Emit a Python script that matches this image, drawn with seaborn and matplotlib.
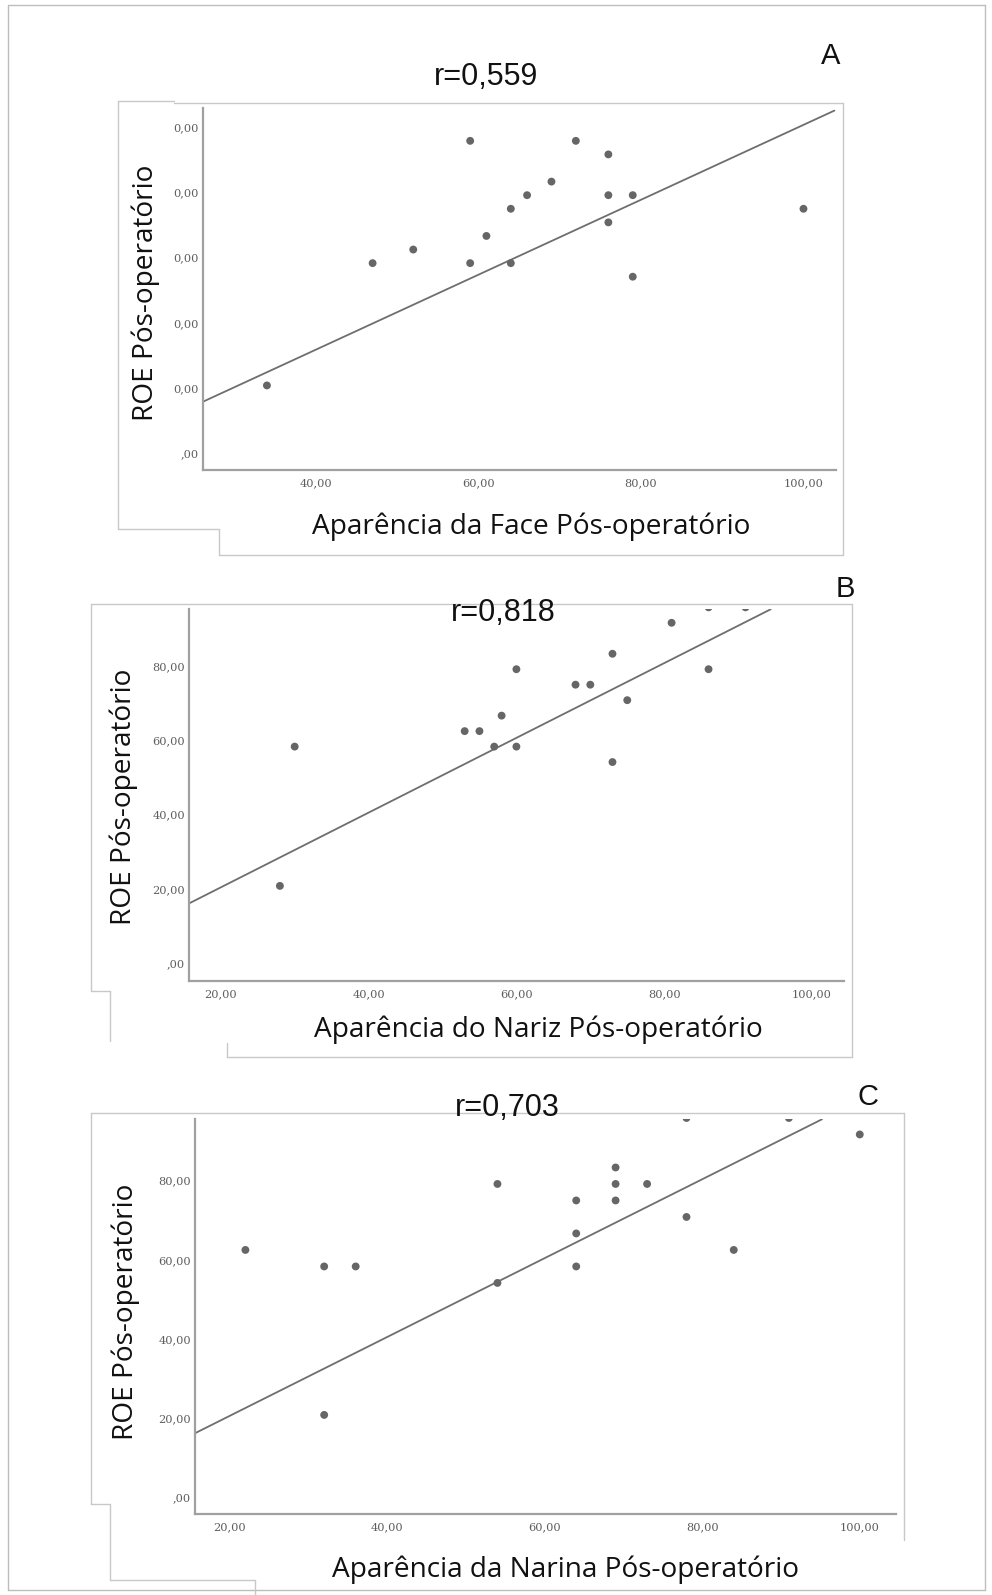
import matplotlib
matplotlib.use("Agg")
import matplotlib.pyplot as plt
import seaborn as sns
import pandas as pd
from matplotlib.lines import Line2D

# ---------------- data ----------------
a_face = [34, 47, 52, 59, 59, 61, 64, 64, 66, 69, 72, 76, 76, 76, 79, 79, 100]
a_roe = [20.83, 58.33, 62.5, 95.83, 58.33, 66.67, 75, 58.33, 79.17, 83.33,
         95.83, 91.67, 79.17, 70.83, 79.17, 54.17, 75]
a_fit_x = [26.1, 103.8]
a_fit_y = [15.8, 105.1]

b_nose = [28, 30, 53, 55, 57, 58, 60, 60, 68, 70, 73, 73, 75, 81, 86, 86, 91]
b_roe = [20.83, 58.33, 62.5, 62.5, 58.33, 66.67, 58.33, 79.17, 75, 75,
         83.33, 54.17, 70.83, 91.67, 79.17, 95.83, 95.83]
b_fit_x = [15.7, 94.4]
b_fit_y = [16.1, 95.3]

c_nostril = [22, 32, 36, 32, 54, 54, 64, 64, 64, 69, 69, 69, 73, 78, 84, 100, 78, 91]
c_roe = [62.5, 58.33, 58.33, 20.83, 79.17, 54.17, 75, 66.67, 58.33, 83.33,
         79.17, 75, 79.17, 70.83, 62.5, 91.67, 95.83, 95.83]
c_fit_x = [15.6, 95.2]
c_fit_y = [16.2, 95.5]

a_xticks = [40, 60, 80, 100]
a_xlabels = ["40,00", "60,00", "80,00", "100,00"]
a_yticks = [0, 20, 40, 60, 80, 100]
a_ylabels = [",00", "0,00", "0,00", "0,00", "0,00", "0,00"]

bc_xticks = [20, 40, 60, 80, 100]
bc_xlabels = ["20,00", "40,00", "60,00", "80,00", "100,00"]
bc_yticks = [0, 20, 40, 60, 80]
bc_ylabels = [",00", "20,00", "40,00", "60,00", "80,00"]

y_title = "ROE Pós-operatório"
x_titles = ["Aparência da Face Pós-operatório",
            "Aparência do Nariz Pós-operatório",
            "Aparência da Narina Pós-operatório"]
r_texts = ["r=0,559", "r=0,818", "r=0,703"]
letters = ["A", "B", "C"]

# ---------------- figure ----------------
W, H = 992, 1595
sns.set_theme(style="white")
plt.rcParams['font.family'] = ['Liberation Sans', 'DejaVu Sans']

fig = plt.figure(figsize=(W / 100, H / 100), dpi=100)
fig.patch.set_facecolor("white")

DOT = "#666666"
LINE = "#6e6e6e"
SPINE = "#a0a0a0"
TICK = "#5e5e5e"
BOX = "#c8c8c8"


def px_axes(l, t, r, b):
    return fig.add_axes([l / W, 1 - b / H, (r - l) / W, (b - t) / H])


def seg(x0, y0, x1, y1, c=BOX, lw=1.0):
    fig.add_artist(Line2D([x0 / W, x1 / W], [1 - y0 / H, 1 - y1 / H],
                          color=c, lw=lw, transform=fig.transFigure))


def ftext(x, y, s, **kw):
    fig.text(x / W, 1 - y / H, s, **kw)


def panel(rect, xs, ys, fx, fy, xlim, ylim, xt, xl, yt, yl):
    ax = px_axes(*rect)
    ax.patch.set_alpha(0)
    df = pd.DataFrame({"x": xs, "y": ys})
    sns.lineplot(x=fx, y=fy, ax=ax, color=LINE, lw=1.3, zorder=2)
    sns.scatterplot(data=df, x="x", y="y", ax=ax, s=32, color=DOT,
                    edgecolor="none", linewidth=0, zorder=3)
    ax.set_xlim(*xlim)
    ax.set_ylim(*ylim)
    ax.set_xticks(xt)
    ax.set_xticklabels(xl, family="DejaVu Serif", fontsize=8.2, color=TICK)
    ax.set_yticks(yt)
    ax.set_yticklabels(yl, family="DejaVu Serif", fontsize=8.2, color=TICK)
    ax.tick_params(axis="both", length=0)
    ax.tick_params(axis="x", pad=6)
    ax.tick_params(axis="y", pad=3)
    ax.set_xlabel("")
    ax.set_ylabel("")
    ax.grid(False)
    for s in ["top", "right"]:
        ax.spines[s].set_visible(False)
    for s in ["left", "bottom"]:
        ax.spines[s].set_color(SPINE)
        ax.spines[s].set_linewidth(1.6)
    return ax


panel((202.7, 108, 836, 470), a_face, a_roe, a_fit_x, a_fit_y,
      (26.1, 104.0), (-5.1, 105.9), a_xticks, a_xlabels, a_yticks, a_ylabels)
panel((189, 609.3, 843.8, 980.7), b_nose, b_roe, b_fit_x, b_fit_y,
      (15.7, 104.3), (-4.7, 95.3), bc_xticks, bc_xlabels, bc_yticks, bc_ylabels)
panel((195, 1119.3, 896, 1514), c_nostril, c_roe, c_fit_x, c_fit_y,
      (15.6, 104.6), (-4.2, 95.5), bc_xticks, bc_xlabels, bc_yticks, bc_ylabels)

# axis titles
lab_font = dict(family=["Open Sans", "DejaVu Sans"], fontsize=20.2, color="#111111")
ftext(145.4, 293, y_title, rotation=90, ha="center", va="center", **lab_font)
ftext(124, 796.5, y_title, rotation=90, ha="center", va="center", **lab_font)
ftext(125.5, 1311.5, y_title, rotation=90, ha="center", va="center", **lab_font)
ftext(531.6, 527, x_titles[0], ha="center", va="center", **lab_font)
ftext(538.6, 1029.6, x_titles[1], ha="center", va="center", **lab_font)
ftext(565.7, 1570, x_titles[2], ha="center", va="center", **lab_font)

# r values and panel letters
r_font = dict(family=["Liberation Sans", "DejaVu Sans"], fontsize=22, color="#111111")
ftext(486, 77, r_texts[0], ha="center", va="center", **r_font)
ftext(502.8, 613, r_texts[1], ha="center", va="center", **r_font)
ftext(506.9, 1108, r_texts[2], ha="center", va="center", **r_font)
let_font = dict(family=["Liberation Sans", "DejaVu Sans"], fontsize=21, color="#111111")
ftext(831, 56, letters[0], ha="center", va="center", **let_font)
ftext(845, 589.3, letters[1], ha="center", va="center", **let_font)
ftext(867.7, 1096.7, letters[2], ha="center", va="center", **let_font)

# outer frame
seg(8, 5, 985, 5, c="#bdbdbd")
seg(8, 5, 8, 1590, c="#bdbdbd")
seg(985, 5, 985, 1590, c="#bdbdbd")
seg(8, 1590, 985, 1590, c="#bdbdbd")

# pasted-panel boundaries (A)
seg(118, 100.7, 174, 100.7)
seg(174, 103.3, 842.7, 103.3)
seg(118, 100.7, 118, 529)
seg(118, 529, 219, 529)
seg(219, 529, 219, 555)
seg(219, 555, 842.7, 555)
seg(842.7, 103.3, 842.7, 555)
# (B)
seg(90.7, 604, 851.7, 604)
seg(90.7, 604, 90.7, 991)
seg(90.7, 991, 110, 991)
seg(110, 991, 110, 1040.7)
seg(227.3, 1043, 227.3, 1056.7)
seg(227.3, 1056.7, 851.7, 1056.7)
seg(851.7, 604, 851.7, 1056.7)
# (C)
seg(90.7, 1113.3, 904, 1113.3)
seg(90.7, 1113.3, 90.7, 1504.3)
seg(90.7, 1504.3, 110, 1504.3)
seg(110, 1504.3, 110, 1580)
seg(110, 1580, 255, 1580)
seg(255, 1580, 255, 1595)
seg(904, 1113.3, 904, 1540)

fig.savefig("out.png", dpi=100, facecolor="white")
